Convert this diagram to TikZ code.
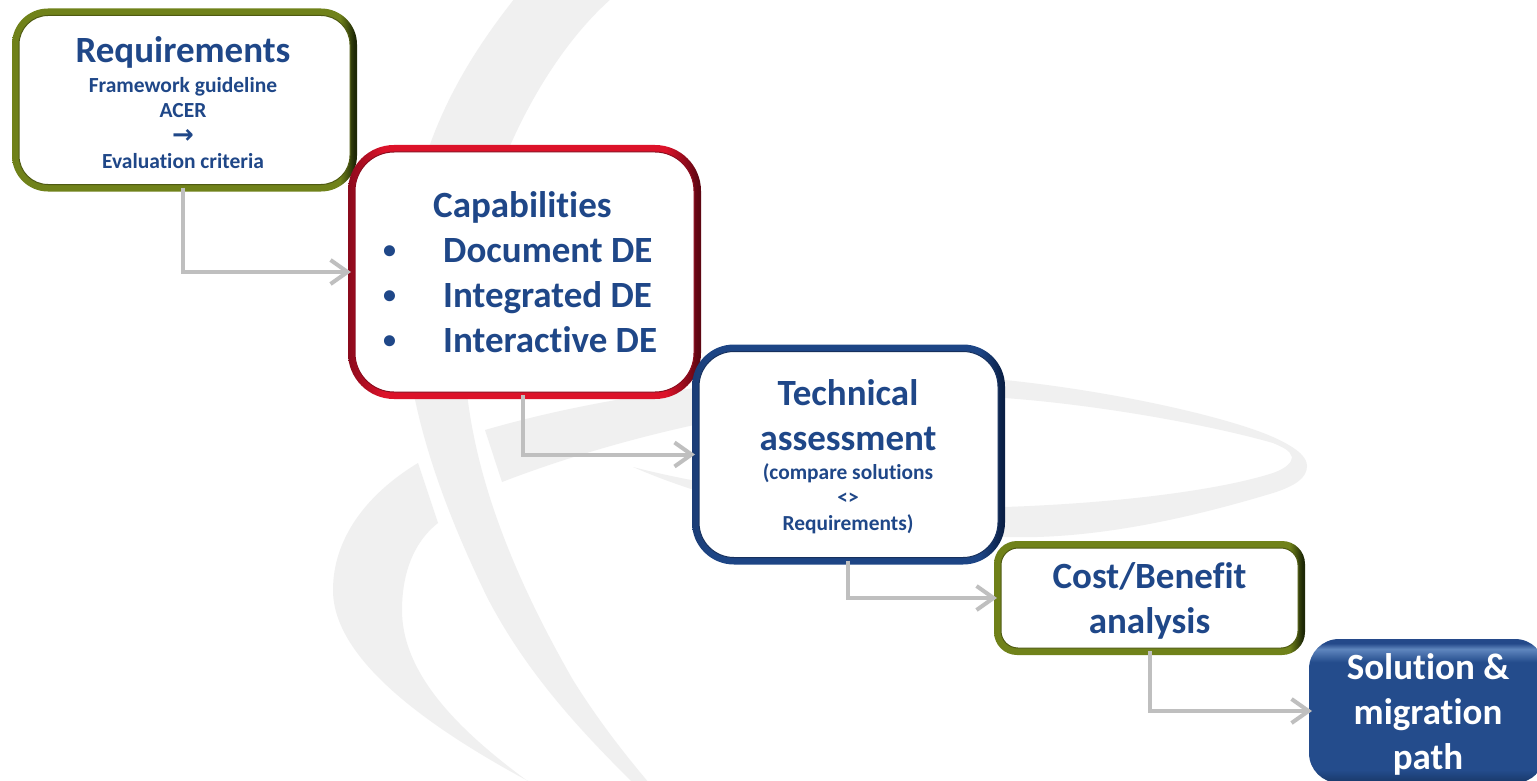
\documentclass[tikz,border=0pt]{standalone}
\usepackage{fontspec}
\setmainfont{Carlito}[BoldFont={Carlito Bold},RawFeature={-liga}]
\newfontfamily\symfont{DejaVu Sans}
\usetikzlibrary{arrows.meta,positioning}
\definecolor{swoosh}{HTML}{F0F0F0}
\definecolor{inkblue}{HTML}{1F4788}
\definecolor{linkgray}{HTML}{BFBFBF}
\definecolor{olA}{HTML}{6F8018}
\definecolor{olB}{HTML}{70821A}
\definecolor{olC}{HTML}{1E2806}
\definecolor{rdA}{HTML}{8A0A1C}
\definecolor{rdB}{HTML}{DC1229}
\definecolor{rdC}{HTML}{5E0612}
\definecolor{blA}{HTML}{1B3C74}
\definecolor{blB}{HTML}{1D4585}
\definecolor{blC}{HTML}{0A1F45}
\definecolor{soA}{HTML}{24498A}
\definecolor{soH}{HTML}{5F86BE}
\definecolor{soB}{HTML}{244C8C}
\definecolor{soD}{HTML}{183767}
\pgfdeclarehorizontalshading{olbev}{100bp}{color(0bp)=(olA); color(25bp)=(olA); color(27bp)=(olB); color(72.5bp)=(olB); color(74.6bp)=(olC); color(100bp)=(olC)}
\pgfdeclarehorizontalshading{rdbev}{100bp}{color(0bp)=(rdA); color(25bp)=(rdA); color(30bp)=(rdB); color(70bp)=(rdB); color(74.6bp)=(rdC); color(100bp)=(rdC)}
\pgfdeclarehorizontalshading{blbev}{100bp}{color(0bp)=(blA); color(25bp)=(blA); color(28bp)=(blB); color(71bp)=(blB); color(74.6bp)=(blC); color(100bp)=(blC)}
\pgfdeclareverticalshading{sobev}{100bp}{color(0bp)=(soD); color(25bp)=(soD); color(29.5bp)=(soB); color(67bp)=(soB); color(71.5bp)=(soH); color(73.5bp)=(soA); color(75bp)=(soA); color(100bp)=(soA)}
\tikzset{
  framebox/.style={rectangle,inner sep=0pt,outer sep=0pt},
  panel/.style={rectangle,inner sep=0pt,outer sep=0pt,fill=white,line width=1pt},
  head/.style={font=\fontsize{37}{45}\selectfont\bfseries,text=inkblue,align=center,inner sep=0pt},
  link/.style={draw=linkgray,line width=4pt,line join=miter,shorten >=-3pt,shorten <=-4pt,
    -{Straight Barb[length=17pt,width=24pt,line width=4pt]}},
}
\newcommand{\subtxt}{\fontsize{21.5}{25.4}\selectfont}
\newcommand{\bul}{\makebox[59pt][l]{\hspace{-1pt}\raisebox{4pt}{\fontsize{26}{26}\selectfont•}}}
\begin{document}
\begin{tikzpicture}[x=1pt,y=-1pt]
\useasboundingbox (0,0) rectangle (1537,781);
\fill[white] (0,0) rectangle (1537,781);
% background swooshes
\fill[swoosh] (515,-2) .. controls (450,80) and (404,170) .. (404,300)
  .. controls (404,400) and (440,500) .. (487,597)
  .. controls (530,680) and (590,740) .. (640,790)
  -- (655,790) .. controls (625,755) and (598,720) .. (573,680)
  .. controls (510,570) and (466,460) .. (464,349)
  .. controls (464,220) and (530,70) .. (612,-2) -- cycle;
\fill[swoosh] (418,463) .. controls (365,495) and (333,540) .. (333,590)
  .. controls (333,660) and (430,730) .. (545,790)
  -- (540,790) .. controls (470,740) and (402,680) .. (402,610)
  .. controls (402,580) and (410,545) .. (438,523) -- cycle;
\fill[swoosh] (485,430) .. controls (640,385) and (850,365) .. (1005,380)
  .. controls (1120,392) and (1230,418) .. (1273,437)
  .. controls (1295,447) and (1307,456) .. (1307,466)
  .. controls (1307,478) and (1295,486) .. (1273,493)
  .. controls (1200,515) and (1100,540) .. (1005,537)
  .. controls (850,535) and (720,505) .. (633,467)
  .. controls (720,490) and (900,515) .. (1005,507)
  .. controls (1120,503) and (1220,490) .. (1273,473)
  .. controls (1287,468) and (1292,462) .. (1292,457)
  .. controls (1290,450) and (1282,447) .. (1273,443)
  .. controls (1210,425) and (1100,405) .. (1005,398)
  .. controls (850,385) and (650,425) .. (502,482) -- cycle;
% frames and panels
\node[framebox,shading=olbev,rounded corners=36pt,minimum width=345pt,minimum height=183pt] (reqf) at (184.5,100) {};
\node[panel,draw=olA!70!black,rounded corners=29pt,minimum width=331pt,minimum height=169pt] (reqp) at (reqf.center) {};
\node[framebox,shading=rdbev,rounded corners=46pt,minimum width=353pt,minimum height=254pt] (capf) at (524.5,272) {};
\node[panel,draw=rdA,rounded corners=39pt,minimum width=339pt,minimum height=240pt] (capp) at (capf.center) {};
\node[framebox,shading=blbev,rounded corners=42pt,minimum width=313pt,minimum height=220pt] (tecf) at (848.5,454.5) {};
\node[panel,draw=blA!80!black,rounded corners=35pt,minimum width=299pt,minimum height=206pt] (tecp) at (tecf.center) {};
\node[framebox,shading=olbev,rounded corners=23pt,minimum width=311pt,minimum height=114pt] (cosf) at (1149.5,598) {};
\node[panel,draw=olA!70!black,rounded corners=17pt,minimum width=297pt,minimum height=100pt] (cosp) at (cosf.center) {};
\node[framebox,shading=sobev,rounded corners=30pt,minimum width=236pt,minimum height=144pt] (solf) at (1427,711) {};
% connectors
\draw[link] ([xshift=-1.5pt]reqf.south) |- (capf.west);
\draw[link] ([xshift=-1.5pt]capf.south) |- (tecf.west);
\draw[link] ([xshift=-0.5pt]tecf.south) |- (cosf.west);
\draw[link] (cosf.south) |- (solf.west);
% texts
\node[head] (t1) at (183,52) {Requirements};
\node[font=\subtxt\bfseries,text=inkblue,align=center,inner sep=0pt] (t1b) at (183,123) {Framework guideline\\ACER\\{\symfont\fontsize{26}{25.4}\selectfont\bfseries→}\\Evaluation criteria};
\node[head,anchor=base west] (t2) at (433,217) {Capabilities};
\node[head,align=left,anchor=base west] (t2b) at (384,262) {\bul Document DE};
\node[head,align=left,anchor=base west] (t2c) at (384,307) {\bul Integrated DE};
\node[head,align=left,anchor=base west] (t2d) at (384,352) {\bul Interactive DE};
\node[head] (t3) at (848,415) {Technical\\assessment};
\node[font=\fontsize{21.4}{25.5}\selectfont\bfseries,text=inkblue,align=center,inner sep=0pt] (t3b) at (848,498.5) {(compare solutions\\<>\\Requirements)};
\node[head] (t4) at (1149.5,601) {Cost/Benefit\\analysis};
\node[head,text=white] (t5) at (1428,714) {Solution \&\\migration\\path};
\end{tikzpicture}
\end{document}
